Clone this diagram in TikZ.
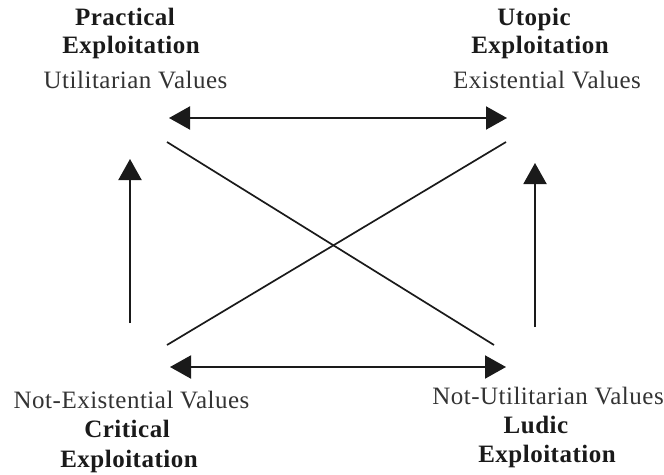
\documentclass[tikz,border=0pt]{standalone}
\usepackage{fontspec}
\setmainfont{Liberation Serif}[LetterSpace=2]
\usetikzlibrary{arrows.meta}
\definecolor{txtgray}{HTML}{333333}
\definecolor{txtdark}{HTML}{1A1A1A}
\definecolor{linecol}{HTML}{1A1A1A}
\tikzset{
  reg/.style={anchor=base, inner sep=0pt, text=txtgray, font=\fontsize{25}{28}\selectfont},
  bld/.style={anchor=base, inner sep=0pt, text=txtdark, font=\fontsize{25}{28}\selectfont\bfseries},
  conn/.style={draw=linecol, line width=2pt, -{Triangle[length=21pt,width=23pt]}},
  bconn/.style={draw=linecol, line width=2pt, {Triangle[length=21pt,width=23pt]}-{Triangle[length=21pt,width=23pt]}},
  diag/.style={draw=linecol, line width=1.7pt}
}
\begin{document}
\begin{tikzpicture}[x=1pt,y=-1pt]
\useasboundingbox (0,0) rectangle (664,474);
% texts
\node[bld] (tl1) at (125,25) {Practical};
\node[bld] (tl2) at (131,53) {Exploitation};
\node[reg] (tl3) at (135.5,88) {Utilitarian Values};
\node[bld] (tr1) at (534,25) {Utopic};
\node[bld] (tr2) at (540,53) {Exploitation};
\node[reg] (tr3) at (547,88) {Existential Values};
\node[reg] (bl1) at (131.5,408) {Not-Existential Values};
\node[bld] (bl2) at (127,437) {Critical};
\node[bld] (bl3) at (129,467) {Exploitation};
\node[reg] (br1) at (548,404) {Not-Utilitarian Values};
\node[bld] (br2) at (536,433) {Ludic};
\node[bld] (br3) at (547,462) {Exploitation};
% endpoints
\coordinate (htl) at (169,118);
\coordinate (htr) at (507,118);
\coordinate (hbl) at (170,367);
\coordinate (hbr) at (506,367);
\coordinate (vlb) at (130,323);
\coordinate (vlt) at (130,159);
\coordinate (vrb) at (535,327);
\coordinate (vrt) at (535,163);
\coordinate (d1a) at (167,142);
\coordinate (d1b) at (494,345);
\coordinate (d2a) at (506,142);
\coordinate (d2b) at (167,345);
% connectors
\draw[bconn] (htl) -- (htr);
\draw[bconn] (hbl) -- (hbr);
\draw[conn] (vlb) -- (vlt);
\draw[conn] (vrb) -- (vrt);
\draw[diag] (d1a) -- (d1b);
\draw[diag] (d2a) -- (d2b);
\end{tikzpicture}
\end{document}
